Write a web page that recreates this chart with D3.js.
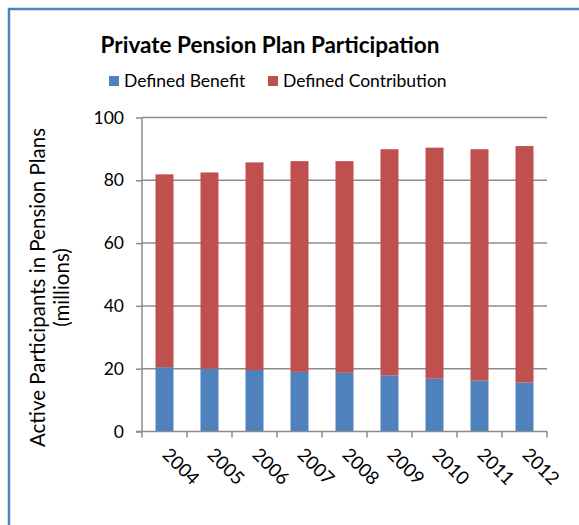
<!DOCTYPE html>
<html>
<head>
<meta charset="utf-8">
<script src="https://cdn.jsdelivr.net/npm/d3@7"></script>
<style>
  body { margin: 0; background: #fff; }
  svg { display: block; font-family: Lato, "Open Sans", sans-serif; }
</style>
</head>
<body>
<svg width="579" height="525"></svg>
<script>
const years = ["2004", "2005", "2006", "2007", "2008", "2009", "2010", "2011", "2012"];
const definedBenefit = [20.5, 20.0, 19.6, 19.0, 18.7, 17.9, 16.8, 16.2, 15.6];
const definedContribution = [61.4, 62.5, 66.1, 67.1, 67.4, 72.0, 73.6, 73.7, 75.3];
const seriesNames = ["Defined Benefit", "Defined Contribution"];
const yTicks = [0, 20, 40, 60, 80, 100];

const colors = ["#4f81bd", "#c0504d"];

const svg = d3.select("svg");

// frame
svg.append("rect")
    .attr("x", 9)
    .attr("y", 9)
    .attr("width", 600)
    .attr("height", 600)
    .attr("fill", "none")
    .attr("stroke", "#4f81bd")
    .attr("stroke-width", 2.5);

const margin = { left: 142, right: 547, top: 117.5, bottom: 431.5 };

const x = d3.scaleBand()
    .domain(years)
    .range([margin.left, margin.right])
    .paddingInner(0.6)
    .paddingOuter(0.3);

const xTickScale = d3.scaleLinear()
    .domain([0, years.length])
    .range([margin.left, margin.right]);

const y = d3.scaleLinear()
    .domain([0, 100])
    .range([margin.bottom, margin.top]);

// gridlines
svg.append("g")
    .selectAll("line")
    .data(yTicks.slice(1))
    .join("line")
    .attr("x1", margin.left)
    .attr("x2", margin.right)
    .attr("y1", d => y(d))
    .attr("y2", d => y(d))
    .attr("stroke", "#8c8c8c")
    .attr("stroke-width", 1.5);

// stacked bars
const table = years.map((yr, i) => ({ year: yr, db: definedBenefit[i], dc: definedContribution[i] }));
const stack = d3.stack().keys(["db", "dc"])(table);

svg.append("g")
    .selectAll("g")
    .data(stack)
    .join("g")
    .attr("fill", (d, i) => colors[i])
    .selectAll("rect")
    .data(d => d)
    .join("rect")
    .attr("x", d => x(d.data.year))
    .attr("width", x.bandwidth())
    .attr("y", d => y(d[1]))
    .attr("height", d => y(d[0]) - y(d[1]));

// y axis
const yAxis = d3.axisLeft(y)
    .tickValues(yTicks)
    .tickSize(6)
    .tickPadding(12);

const yG = svg.append("g")
    .attr("transform", `translate(${margin.left},0)`)
    .call(yAxis);
yG.select(".domain").remove();
yG.selectAll(".tick line").attr("stroke", "#8c8c8c").attr("stroke-width", 1.5);
yG.selectAll("text").attr("font-size", 17.5).attr("fill", "#000").attr("font-family", "Lato, sans-serif");

svg.append("line")
    .attr("x1", margin.left)
    .attr("x2", margin.left)
    .attr("y1", margin.top)
    .attr("y2", margin.bottom + 6)
    .attr("stroke", "#8c8c8c")
    .attr("stroke-width", 1.5);

// x axis
svg.append("line")
    .attr("x1", margin.left - 6)
    .attr("x2", margin.right)
    .attr("y1", margin.bottom)
    .attr("y2", margin.bottom)
    .attr("stroke", "#8c8c8c")
    .attr("stroke-width", 1.5);

svg.append("g")
    .selectAll("line")
    .data(d3.range(1, years.length + 1))
    .join("line")
    .attr("x1", d => xTickScale(d))
    .attr("x2", d => xTickScale(d))
    .attr("y1", margin.bottom)
    .attr("y2", margin.bottom + 6)
    .attr("stroke", "#8c8c8c")
    .attr("stroke-width", 1.5);

svg.append("g")
    .selectAll("text")
    .data(years)
    .join("text")
    .attr("transform", d => `translate(${x(d) + x.bandwidth() / 2 + 6},${margin.bottom + 15}) rotate(45)`)
    .attr("dy", "0.71em")
    .attr("font-size", 18.5)
    .text(d => d);

// y label
const yLabel = svg.append("text")
    .attr("transform", `translate(0,${(margin.top + margin.bottom) / 2 + 13}) rotate(-90)`)
    .attr("text-anchor", "middle")
    .attr("font-size", 20.5);
yLabel.append("tspan").attr("x", 0).attr("y", 45).text("Active Participants in Pension Plans");
yLabel.append("tspan").attr("x", 0).attr("y", 69).text("(millions)");

// title
svg.append("text")
    .attr("x", 270)
    .attr("y", 53)
    .attr("text-anchor", "middle")
    .attr("font-size", 22.5)
    .attr("font-weight", "bold")
    .text("Private Pension Plan Participation");

// legend
const legendX = [109, 268];
const legend = svg.append("g")
    .selectAll("g")
    .data(seriesNames)
    .join("g")
    .attr("transform", (d, i) => `translate(${legendX[i]},76)`);
legend.append("rect")
    .attr("width", 10)
    .attr("height", 10)
    .attr("fill", (d, i) => colors[i]);
legend.append("text")
    .attr("x", 15)
    .attr("y", 11)
    .attr("font-size", 17.5)
    .text(d => d);
</script>
</body>
</html>
